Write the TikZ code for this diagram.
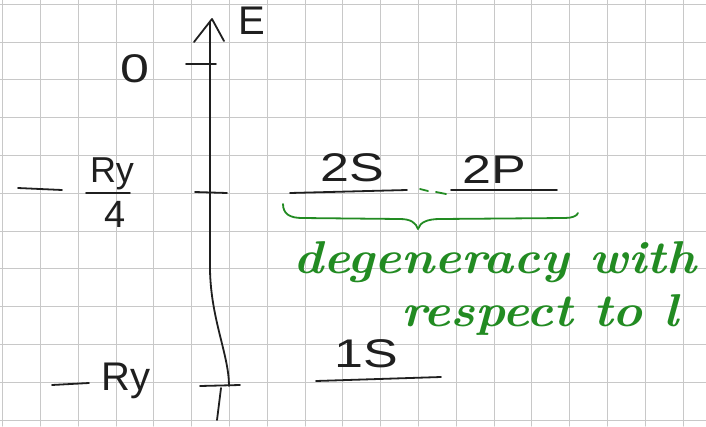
\documentclass[tikz,border=0pt]{standalone}
\usepackage{fontspec}
\newfontfamily\hand{Liberation Sans}
\definecolor{hgreen}{RGB}{34,139,34}
\definecolor{gridc}{RGB}{200,200,200}
\begin{document}
\begin{tikzpicture}[x=1pt,y=-1pt, line cap=round, line join=round,
  gridline/.style={draw=gridc, line width=1.1pt},
  ink/.style={draw=black!88, line width=1.8pt},
  gink/.style={draw=hgreen, line width=1.8pt},
  lab/.style={font=\hand\fontsize{40}{40}\selectfont, inner sep=0pt, text=black!88},
  gtext/.style={font=\bfseries\itshape\fontsize{46}{46}\selectfont, text=hgreen, inner sep=0pt}]
\useasboundingbox (0,0) rectangle (706,426);
\fill[white] (0,0) rectangle (706,426);
% grid
\foreach \i in {0,...,18} \draw[gridline] ({2.7+37.8*\i},0) -- ({2.7+37.8*\i},426);
\foreach \j in {0,...,11} \draw[gridline] (0,{4.3+37.8*\j}) -- (706,{4.3+37.8*\j});
% axis
\coordinate (top) at (210,22);
\coordinate (bend) at (210,270);
\coordinate (bot) at (229,386);
\draw[ink] (top) -- (bend) .. controls (211,320) and (229,355) .. (bot);
\draw[ink] (194,42) -- (212,19) -- (224,41);
\draw[ink] (221,388) -- (217,420);
% ticks
\coordinate (t0a) at (186,64); \coordinate (t0b) at (216,64);
\coordinate (t1a) at (195,192); \coordinate (t1b) at (227,193);
\coordinate (t2a) at (200,386); \coordinate (t2b) at (240,385);
\draw[ink] (t0a) -- (t0b);
\draw[ink] (t1a) -- (t1b);
\draw[ink] (t2a) -- (t2b);
% axis labels
\node[lab] (E) at (252,21) {E};
\node[lab] (zero) at (135,69) {\scalebox{1.3}[1]{0}};
\draw[ink] (18,188) -- (62,190);
\node[lab, font=\hand\fontsize{36}{36}\selectfont] (ry4) at (112,174) {Ry};
\draw[ink] (86,193) -- (130,193);
\node[lab, font=\hand\fontsize{38}{38}\selectfont] (four) at (115,214) {4};
\draw[ink] (52,385) -- (89,383);
\node[lab] (ry) at (126,381) {Ry};
% levels
\node[lab] (s2) at (352,168) {\scalebox{1.3}[1]{2S}};
\draw[ink] (290,193) -- (407,190);
\node[lab] (p2) at (494,170) {\scalebox{1.3}[1]{2P}};
\draw[ink] (451,190) -- (557,190);
\node[lab] (s1) at (366,354) {\scalebox{1.3}[1]{1S}};
\draw[ink] (316,381) -- (441,377);
% green
\draw[gink] (420,189) -- (428,191);
\draw[gink] (436,192) -- (446,194);
\draw[gink] (283,204) .. controls (283,214) and (290,218) .. (302,218)
  -- (400,219) .. controls (411,219) and (416,223) .. (418,229)
  .. controls (420,222) and (428,219) .. (440,219)
  -- (565,218) .. controls (572,218) and (577,216) .. (578,213);
\node[gtext, anchor=base] (deg) at (495,273) {\scalebox{1.1}[1]{degeneracy with}};
\node[gtext, anchor=base] (resp) at (540,326) {\scalebox{1.1}[1]{respect to l}};
\end{tikzpicture}
\end{document}
